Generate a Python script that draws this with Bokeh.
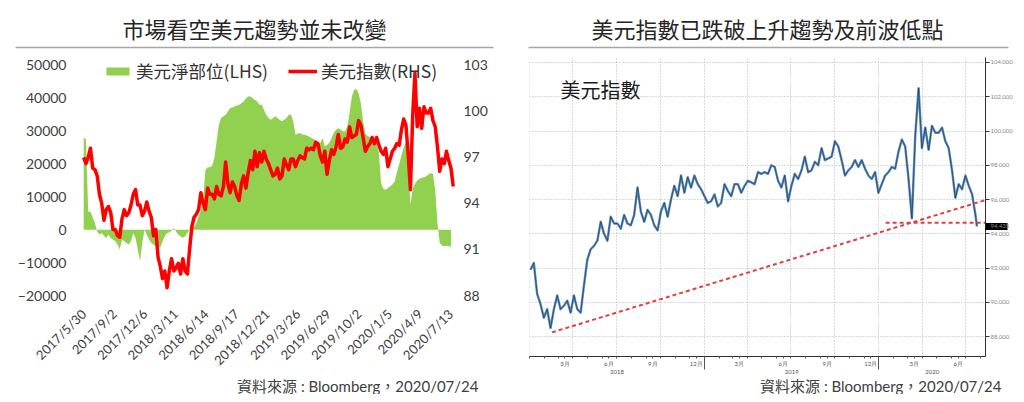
import math
import pandas as pd
from bokeh.plotting import figure
from bokeh.layouts import row, column
from bokeh.models import (Range1d, LinearAxis, DatetimeAxis, FixedTicker, Legend,
                          LegendItem, Label, NumeralTickFormatter)
from bokeh.core.properties import value
from bokeh.embed import file_html
from bokeh.resources import INLINE

# ---------------- data ----------------
left_title = "市場看空美元趨勢並未改變"
right_title = "美元指數已跌破上升趨勢及前波低點"
source_note = "資料來源 : Bloomberg，2020/07/24"
pos_label = "美元淨部位(LHS)"
dxy_label = "美元指數(RHS)"
right_note = "美元指數"

week_start = "2017-05-30"   # weekly observations (Tuesdays)

usd_net_position = [
    28000, 27500, 5500, 5500, 3800, 2000, -500, -1500, -1000, -1800,
    -2500, -1500, -2500, -3000, -3500, -4500, -6000, -3000, -3500, -4000,
    -4500, -3500, -1000, -2500, -6000, -9500, -4000, 0, -1500, -3000,
    -4000, -4500, -5000, -5200, -5500, -3500, -2000, -1000, -800, -300,
    500, -500, -1500, -2000, -2500, -2000, -1000, 0, 500, 1000,
    2000, 4000, 6000, 9000, 18000, 19000, 19000, 19500, 21800, 27000,
    32000, 34000, 34500, 35000, 36000, 37000, 37200, 37500, 37800, 38000,
    38500, 39000, 40000, 40500, 40500, 40000, 39500, 39000, 38000, 38000,
    36500, 35000, 34000, 33500, 34000, 34500, 34000, 33400, 33000, 33500,
    34000, 35000, 35000, 33000, 28900, 29200, 29400, 29000, 28900, 28700,
    28400, 28000, 27600, 27000, 25400, 26500, 27800, 25400, 25800, 26500,
    27800, 29500, 30400, 30900, 30500, 30000, 29900, 31400, 35500, 40500,
    42500, 42800, 41500, 38500, 33000, 29200, 28500, 28200, 28000, 27500,
    26000, 23500, 14000, 12500, 12200, 12700, 13200, 13800, 14700, 17500,
    20000, 22500, 25000, 26500, 20000, 7700, 12500, 14000, 15000, 15500,
    15800, 16000, 16300, 16800, 17300, 17000, 12000, 2000, -4000, -4800,
    -5000, -4900, -5000, -5200,
]

dxy_weekly = [
    # 2017
    97.0, 96.6, 97.0, 97.6, 96.3, 96.2, 95.8, 94.6, 94.0, 92.9,
    93.6, 93.8, 93.4, 92.3, 92.3, 91.9, 91.8, 93.0, 93.6, 93.2,
    93.4, 93.9, 94.6, 94.9, 93.9, 93.9, 93.2, 93.5, 94.1, 93.5, 93.1,
    # 2018
    91.9, 92.3, 90.5, 89.9, 89.1, 89.6, 88.5, 89.6, 90.4, 89.6,
    89.8, 90.1, 89.4, 90.4, 89.6, 89.4, 91.0, 92.5, 93.1, 93.3,
    93.6, 94.7, 94.0, 93.6, 95.0, 94.6, 94.6, 94.3, 95.1, 94.6,
    94.5, 95.1, 96.7, 95.3, 94.7, 95.4, 95.1, 94.5, 94.2, 95.3,
    95.8, 95.0, 96.0, 96.8, 96.2, 97.4, 96.4, 97.3, 96.7, 97.4,
    96.9, 96.6,
    # 2019
    96.2, 95.8, 95.9, 96.3, 95.6, 95.8, 96.9, 96.5, 96.2, 96.9,
    96.9, 96.4, 96.8, 97.1, 97.0, 96.9, 97.6, 97.5, 97.6, 97.5,
    98.0, 97.9, 97.1, 96.7, 97.4, 95.9, 96.8, 97.5, 97.2, 97.7,
    98.5, 97.6, 97.7, 98.2, 98.0, 99.0, 98.3, 98.4, 98.5, 99.4,
    99.1, 98.3, 97.4, 97.7, 97.9, 98.3, 97.9, 98.3, 97.8, 97.4,
    97.2, 97.6, 96.4,
    # 2020
    96.9, 97.4, 97.6, 97.9, 97.8, 98.8, 99.5, 99.1, 97.2, 94.9,
    99.7, 102.5, 99.0, 100.2, 98.9, 100.3, 99.9, 99.9, 100.2, 99.4,
    99.0, 97.7, 96.1, 96.9, 96.6, 97.4, 96.8, 96.3, 95.1,
]
dxy_last_date = "2020-07-24"
dxy_last_close = 94.435

left_date_labels = ["2017/5/30", "2017/9/2", "2017/12/6", "2018/3/11", "2018/6/14",
                    "2018/9/17", "2018/12/21", "2019/3/26", "2019/6/29", "2019/10/2",
                    "2020/1/5", "2020/4/9", "2020/7/13"]
left_pos_ticks = [-20000, -10000, 0, 10000, 20000, 30000, 40000, 50000]
left_dxy_ticks = [88, 91, 94, 97, 100, 103]

right_dxy_ticks = [88, 90, 92, 94, 96, 98, 100, 102, 104]
month_names = {3: "3月", 6: "6月", 9: "9月", 12: "12月"}
year_names = ["2018", "2019", "2020"]

trend_dates = ["2018-02-16", "2020-03-09"]   # the two lows the trend line joins
trend_values = [88.25, 94.65]
support_start = "2020-01-15"
support_level = 94.65

# ---------------- helpers ----------------
CJK = "Noto Sans CJK TC"
NUM = "Lato"
FOOT_FONT = "Lato, 'Noto Sans CJK TC'"
TXT = "#404040"
WL, WR = 512, 504
HH, HC, HF = 50, 326, 18


def ms(d):
    return pd.Timestamp(d).value / 1e6


pos_dates = pd.date_range(week_start, periods=len(usd_net_position), freq="7D")
dxy_dates = pd.date_range(week_start, periods=len(dxy_weekly), freq="7D")


def blank(width, height):
    f = figure(width=width, height=height, x_range=Range1d(0, width), y_range=Range1d(0, height),
               x_axis_location=None, y_axis_location=None, toolbar_location=None,
               output_backend="svg", min_border=0, outline_line_color=None)
    f.xgrid.visible = False
    f.ygrid.visible = False
    return f


def header(width, text, cx, x0, x1):
    h = blank(width, HH)
    h.text(x=[cx], y=[HH - 27], text=[text], text_font=value(CJK), text_font_size="22px",
           text_align="center", text_baseline="middle", text_color="#262626")
    h.line(x=[x0, x1], y=[HH - 47, HH - 47], line_color="#a6a6a6", line_width=1.5)
    return h


def footer(width, rx):
    f = blank(width, HF)
    f.text(x=[rx], y=[HF / 2], text=[source_note], text_font=value(FOOT_FONT),
           text_font_size="15px", text_align="right", text_baseline="middle", text_color=TXT)
    return f


# ---------------- left chart ----------------
# 233 px between the top and bottom tick; the frame reaches 9 px above the top tick
top_gap = 9
l_pad = (left_pos_ticks[-1] - left_pos_ticks[0]) / 233 * top_gap
r_pad = (left_dxy_ticks[-1] - left_dxy_ticks[0]) / 233 * top_gap
pL = figure(width=WL, height=HC, x_axis_type="datetime",
            x_range=Range1d(pd.Timestamp("2017-05-17"), pd.Timestamp("2020-07-28")),
            y_range=Range1d(left_pos_ticks[0], left_pos_ticks[-1] + l_pad),
            toolbar_location=None, output_backend="svg",
            min_border_left=79, min_border_right=57, min_border_top=6, min_border_bottom=78,
            outline_line_color=None)
pL.extra_y_ranges = {"dxy": Range1d(left_dxy_ticks[0], left_dxy_ticks[-1] + r_pad)}
pL.xgrid.visible = False
pL.ygrid.visible = False

area = pL.varea(x=pos_dates, y1=0, y2=usd_net_position, fill_color="#92d050")
dline = pL.line(x=dxy_dates, y=dxy_weekly, y_range_name="dxy", line_color="#ff0000",
                line_width=3.5, line_join="round")

ya = pL.yaxis[0]
ya.ticker = FixedTicker(ticks=left_pos_ticks)
ya.major_label_standoff = 13

yr = LinearAxis(y_range_name="dxy", ticker=FixedTicker(ticks=left_dxy_ticks))
yr.major_label_standoff = 8
pL.add_layout(yr, "right")

xa = pL.xaxis[0]
tick_dates = [pd.to_datetime(s, format="%Y/%m/%d") for s in left_date_labels]
xa.ticker = FixedTicker(ticks=[ms(d) for d in tick_dates])
xa.major_label_overrides = {ms(d): s for d, s in zip(tick_dates, left_date_labels)}
xa.major_label_orientation = math.pi / 4
xa.major_label_standoff = 16

for ax in (ya, yr, xa):
    ax.axis_line_color = None
    ax.major_tick_line_color = None
    ax.minor_tick_line_color = None
    ax.major_tick_out = 0
    ax.major_tick_in = 0
    ax.minor_tick_out = 0
    ax.minor_tick_in = 0
    ax.major_label_text_font = NUM
    ax.major_label_text_color = TXT
    ax.major_label_text_font_size = "14px"
xa.major_label_text_font_size = "13px"

legend = Legend(items=[LegendItem(label=pos_label, renderers=[area]),
                       LegendItem(label=dxy_label, renderers=[dline])],
                orientation="horizontal", location=(24, 212), glyph_width=29, glyph_height=10,
                label_standoff=4, spacing=20, padding=0, margin=0,
                border_line_color=None, background_fill_alpha=0,
                label_text_font=CJK, label_text_font_size="17.5px", label_text_color="#333333")
pL.add_layout(legend)

# ---------------- right chart ----------------
rx0, rx1 = pd.Timestamp("2017-12-31"), pd.Timestamp("2020-08-11")
pR = figure(width=WR, height=HC, x_axis_type="datetime", x_range=Range1d(rx0, rx1),
            y_range=Range1d(86.84, 104.29), y_axis_location="right",
            toolbar_location=None, output_backend="svg",
            min_border_left=17, min_border_right=31, min_border_top=7, min_border_bottom=18,
            outline_line_color=None)

quarter_starts = pd.date_range("2018-01-01", rx1, freq="QS")
month_starts = pd.date_range("2018-01-01", rx1, freq="MS")
label_months = [d + pd.Timedelta(days=14) for d in month_starts if d.month in month_names]

pR.xgrid.ticker = FixedTicker(ticks=[ms(d) for d in quarter_starts])
pR.ygrid.ticker = FixedTicker(ticks=right_dxy_ticks)
for g in (pR.xgrid[0], pR.ygrid[0]):
    g.grid_line_color = "#b5b5b5"
    g.grid_line_dash = "1 2"
    g.grid_line_width = 1

sel = dxy_dates >= pd.Timestamp("2018-01-01")
r_dates = list(dxy_dates[sel]) + [pd.Timestamp(dxy_last_date)]
r_vals = [v for v, s in zip(dxy_weekly, sel) if s] + [dxy_last_close]
pR.line(x=r_dates, y=r_vals, line_color="#5a8ec4", line_width=2.4, line_join="round")
pR.line(x=r_dates, y=r_vals, line_color="#1d2b3a", line_width=0.7, line_alpha=0.85)

# trend line through the two lows, extended to the right edge; support level
d0, d1 = pd.Timestamp(trend_dates[0]), pd.Timestamp(trend_dates[1])
slope = (trend_values[1] - trend_values[0]) / (d1 - d0).days
trend_end = trend_values[0] + slope * (rx1 - d0).days
pR.line(x=[d0, rx1], y=[trend_values[0], trend_end], line_color="#e0413e",
        line_width=2, line_dash="4 3")
pR.line(x=[pd.Timestamp(support_start), rx1], y=[support_level, support_level],
        line_color="#e0413e", line_width=2, line_dash="4 3")

# price axis; the last close gets its own tick, drawn as a black tag (thick minor tick)
yax = pR.yaxis[0]
yax.ticker = FixedTicker(ticks=right_dxy_ticks + [dxy_last_close], minor_ticks=[dxy_last_close])
yax.formatter = NumeralTickFormatter(format="0.000")
yax.axis_line_color = "#333333"
yax.major_tick_out = 4
yax.major_tick_in = 0
yax.minor_tick_out = 22
yax.minor_tick_in = 0
yax.major_tick_line_color = "#333333"
yax.minor_tick_line_color = "black"
yax.minor_tick_line_width = 7
yax.major_label_standoff = -17
yax.major_label_text_font = NUM
yax.major_label_text_font_size = "6px"
yax.major_label_text_color = "#858585"

xb = pR.xaxis[0]
xb.ticker = FixedTicker(ticks=[ms(d) for d in label_months],
                        minor_ticks=[ms(d) for d in month_starts])
xb.major_label_overrides = {ms(d): month_names[d.month] for d in label_months}
xb.axis_line_color = "#333333"
xb.major_tick_out = 2
xb.major_tick_in = 0
xb.minor_tick_out = 2
xb.minor_tick_in = 0
xb.major_tick_line_color = "#555555"
xb.minor_tick_line_color = "#555555"
xb.major_label_standoff = 1
xb.major_label_text_font = NUM
xb.major_label_text_font_size = "6px"
xb.major_label_text_color = "#555555"

year_bounds = [pd.Timestamp(f"{y}-01-01") for y in year_names[1:]]
edges = [rx0] + year_bounds + [rx1]
year_mid = [edges[i] + (edges[i + 1] - edges[i]) / 2 for i in range(len(year_names))]
ya2 = DatetimeAxis(ticker=FixedTicker(ticks=[ms(d) for d in year_mid],
                                      minor_ticks=[ms(d) for d in year_bounds]))
ya2.major_label_overrides = {ms(d): y for d, y in zip(year_mid, year_names)}
ya2.axis_line_color = None
ya2.major_tick_line_color = None
ya2.major_tick_out = 0
ya2.major_tick_in = 0
ya2.minor_tick_in = 12
ya2.minor_tick_out = 0
ya2.minor_tick_line_color = "#555555"
ya2.major_label_standoff = 0
ya2.major_label_text_font = NUM
ya2.major_label_text_font_size = "6px"
ya2.major_label_text_color = "#555555"
pR.add_layout(ya2, "below")

span_ms = ms(rx1) - ms(rx0)
pR.add_layout(Label(x=ms(rx0) + 0.068 * span_ms, y=102.45, text=right_note,
                    text_font=CJK, text_font_size="20px", text_color="#1a1a1a",
                    text_baseline="middle"))

layout = row(column(row(header(WL, left_title, 254, 15, 493)), row(pL), row(footer(WL, 478))),
             column(row(header(WR, right_title, 255, 16, 496)), row(pR), row(footer(WR, 489))))

open("out.html", "w").write(file_html(layout, INLINE, title="USD"))
